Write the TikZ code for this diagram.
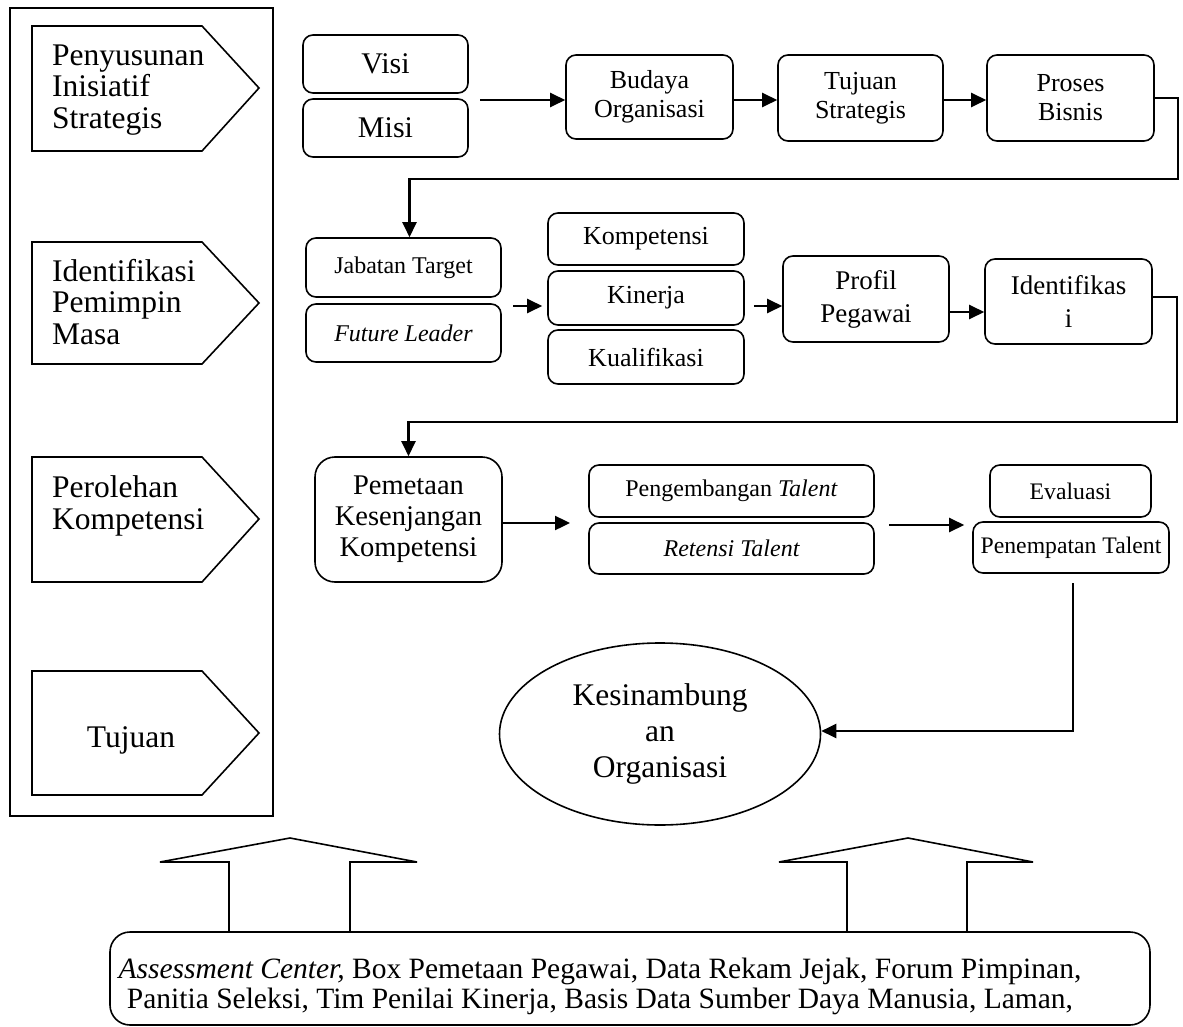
\documentclass[tikz,border=0pt]{standalone}
\usepackage{fontspec}
\setmainfont{Liberation Serif}
\usetikzlibrary{arrows.meta,shapes.geometric}
\begin{document}
\begin{tikzpicture}[x=1pt,y=-1pt,
  box/.style={draw, line width=1.6pt, rounded corners=10pt, inner sep=0pt, align=center},
  pent/.style={draw, line width=1.6pt, line join=miter},
  ptext/.style={inner sep=0pt, align=left, anchor=west, font=\fontsize{31.5}{31.5}\selectfont},
  conn/.style={line width=2.4pt, -{Triangle[length=15pt,width=14pt]}},
  blockarrow/.style={draw, line width=1.6pt, line join=miter}
]
\useasboundingbox (0,0) rectangle (1183,1027);

% left frame
\draw[line width=1.6pt] (10,8) rectangle (273,816);

% pentagons
\draw[pent] (32,26) -- (202,26) -- (259,88) -- (202,151) -- (32,151) -- cycle;
\draw[pent] (32,242) -- (202,242) -- (259,303) -- (202,364) -- (32,364) -- cycle;
\draw[pent] (32,457) -- (202,457) -- (259,519) -- (202,582) -- (32,582) -- cycle;
\draw[pent] (32,671) -- (202,671) -- (259,733) -- (202,795) -- (32,795) -- cycle;
\node[ptext] (t1) at (52,90) {Penyusunan\\Inisiatif\\Strategis};
\node[ptext] (t2) at (52,302) {Identifikasi\\Pemimpin\\Masa};
\node[ptext] (t3) at (52,506) {Perolehan\\Kompetensi};
\node[ptext, anchor=center] (t4) at (131,740) {Tujuan};

% row 1
\node[box, minimum width=165pt, minimum height=58pt, font=\fontsize{30}{32}\selectfont] (visi) at (385.5,64) {Visi};
\node[box, minimum width=165pt, minimum height=58pt, font=\fontsize{30}{32}\selectfont] (misi) at (385.5,128) {Misi};
\node[box, minimum width=167pt, minimum height=84pt, font=\fontsize{26}{29}\selectfont] (budaya) at (649.5,97) {Budaya\\Organisasi};
\node[box, minimum width=165pt, minimum height=86pt, font=\fontsize{26}{29}\selectfont] (tujuan) at (860.5,98) {Tujuan\\Strategis};
\node[box, minimum width=167pt, minimum height=86pt, font=\fontsize{26}{29}\selectfont] (proses) at (1070.5,98) {Proses\\Bisnis};

\coordinate (vm) at (480,100);
\draw[conn] (vm) -- (budaya.west |- vm);
\draw[conn] (budaya.east |- vm) -- (tujuan.west |- vm);
\draw[conn] (tujuan.east |- vm) -- (proses.west |- vm);

% row 2
\node[box, minimum width=195pt, minimum height=59pt, font=\fontsize{24}{26}\selectfont] (jabatan) at (403.5,267.5) {Jabatan Target};
\node[box, minimum width=195pt, minimum height=58pt, font=\fontsize{24}{26}\selectfont\itshape] (future) at (403.5,333) {Future Leader};
\node[box, minimum width=196pt, minimum height=52pt, font=\fontsize{26}{28}\selectfont] (komp) at (646,239) {Kompetensi};
\node[box, minimum width=196pt, minimum height=54pt, font=\fontsize{26}{28}\selectfont] (kinerja) at (646,298) {Kinerja};
\node[box, minimum width=196pt, minimum height=54pt, font=\fontsize{26}{28}\selectfont] (kual) at (646,357) {Kualifikasi};
\node[box, minimum width=166pt, minimum height=86pt, font=\fontsize{27}{33}\selectfont] (profil) at (866,299) {Profil\\Pegawai};
\node[box, minimum width=167pt, minimum height=85pt, font=\fontsize{27}{33}\selectfont] (ident) at (1068.5,301.5) {Identifikas\\i};

\coordinate (c1) at (1178,179);
\draw[conn] (proses.east) -- (proses.east -| c1) -- (c1) -- ([xshift=6pt]c1 -| jabatan.north) -- ([xshift=6pt]jabatan.north);

\coordinate (c2) at (513,306);
\draw[conn, shorten >=5pt] (c2) -- (kinerja.west |- c2);
\draw[conn] ([xshift=9pt]kinerja.east |- c2) -- (profil.west |- c2);
\coordinate (c3) at (949,312);
\draw[conn] (profil.east |- c3) -- (ident.west |- c3);

% row 3
\node[box, rounded corners=20pt, minimum width=187pt, minimum height=125pt, font=\fontsize{28.5}{31}\selectfont] (pemetaan) at (408.5,519.5) {Pemetaan\\Kesenjangan\\Kompetensi};
\node[box, minimum width=285pt, minimum height=52pt, font=\fontsize{24}{26}\selectfont] (peng) at (731.5,491) {Pengembangan \textit{Talent}};
\node[box, minimum width=285pt, minimum height=51pt, font=\fontsize{24}{26}\selectfont\itshape] (retensi) at (731.5,548.5) {Retensi Talent};
\node[box, minimum width=161pt, minimum height=52pt, font=\fontsize{23.7}{26}\selectfont] (eval) at (1070.5,491) {Evaluasi};
\node[box, minimum width=196pt, minimum height=51pt, font=\fontsize{23.7}{26}\selectfont] (penem) at (1071,547.5) {Penempatan Talent};

\coordinate (c4) at (1177,297);
\coordinate (c5) at (1177,422);
\draw[conn] (ident.east |- c4) -- (c4) -- (c5) -- (c5 -| pemetaan.north) -- (pemetaan.north);

\coordinate (c6) at (570,523);
\draw[conn] (pemetaan.east |- c6) -- (c6);
\coordinate (c7) at (889,525);
\draw[conn, shorten >=8pt] (c7) -- (penem.west |- c7);

% ellipse
\node[draw, ellipse, line width=1.6pt, minimum width=321pt, minimum height=182pt, inner sep=0pt, align=center, font=\fontsize{31.5}{36}\selectfont] (kes) at (660,734) {\raisebox{-4pt}{Kesinambung}\\\raisebox{-4pt}{an}\\\raisebox{-4pt}{Organisasi}};

\coordinate (c8) at (1073,583);
\coordinate (c9) at (1073,731);
\draw[conn] (c8) -- (c9) -- (kes.east |- c9);

% bottom box
\node[box, rounded corners=20pt, minimum width=1040pt, minimum height=93pt] (base) at (630,978.5) {};
\node[inner sep=0pt, align=center, font=\fontsize{29.5}{30}\selectfont] (basetext) at (600,986) {\textit{Assessment Center,} Box Pemetaan Pegawai, Data Rekam Jejak, Forum Pimpinan,\\Panitia Seleksi, Tim Penilai Kinerja, Basis Data Sumber Daya Manusia, Laman,};

% block arrows
\draw[blockarrow] (229,932) -- (229,862) -- (160,862) -- (290,838) -- (417,862) -- (350,862) -- (350,932);
\draw[blockarrow] (847,932) -- (847,862) -- (779,862) -- (908,838) -- (1033,862) -- (967,862) -- (967,932);
\end{tikzpicture}
\end{document}
